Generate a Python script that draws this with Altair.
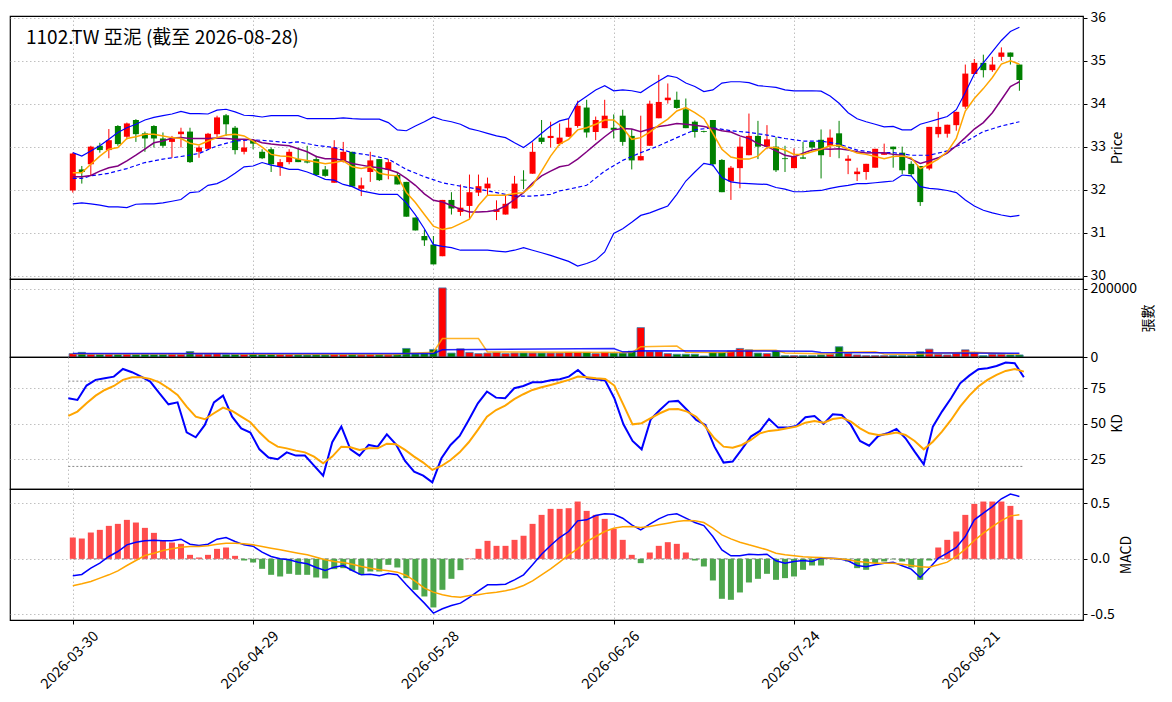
import altair as alt
import pandas as pd

# ---------------- data ----------------
title_text = "1102.TW 亞泥 (截至 2026-08-28)"
tick_idx = [0, 20, 40, 60, 80, 100]
tick_labels = ["2026-03-30", "2026-04-29", "2026-05-28", "2026-06-26", "2026-07-24", "2026-08-21"]

opens = [31.98,32.47,32.59,33.02,32.92,33.48,33.23,33.62,33.31,33.48,
         33.19,33.11,33.29,33.35,32.88,32.95,33.29,33.73,33.44,32.88,
         33.15,32.88,32.94,32.53,32.64,32.71,32.66,32.71,32.47,32.16,
         32.65,32.88,32.02,32.41,32.71,32.46,32.34,32.18,31.35,30.92,
         30.72,30.45,31.76,31.48,31.62,31.93,32.03,31.48,31.42,31.56,
         32.23,32.37,33.21,33.20,33.06,33.23,33.48,33.91,33.34,33.43,
         33.44,33.72,33.25,32.68,33.02,33.66,34.08,34.09,33.87,33.58,
         33.36,33.62,32.69,32.19,32.50,32.80,33.25,33.00,33.00,32.73,
         32.50,32.75,33.11,33.16,33.02,33.31,32.67,32.36,32.41,32.51,
         32.81,33.00,32.86,32.60,32.55,32.49,33.29,33.30,33.50,33.93,
         34.69,34.95,34.78,35.09,35.19,34.91]
highs = [32.86,32.55,33.02,33.09,33.41,33.50,33.56,33.64,33.35,33.50,
         33.33,33.25,33.44,33.44,33.02,33.32,33.72,33.76,33.48,33.15,
         33.17,32.94,32.98,32.71,32.94,32.98,33.02,32.79,32.55,33.15,
         33.11,32.88,32.28,32.88,32.71,32.71,32.40,32.18,31.35,31.07,
         30.92,31.76,31.94,32.12,32.35,32.35,32.28,31.75,31.87,32.32,
         32.45,33.10,33.62,33.58,33.54,33.65,34.07,34.09,33.70,34.09,
         33.75,33.86,33.41,33.72,34.07,34.67,34.47,34.28,34.12,33.61,
         33.37,33.62,32.71,32.55,33.22,33.77,33.60,33.50,33.22,33.02,
         32.96,33.11,33.11,33.40,33.40,33.60,32.80,32.51,32.60,32.95,
         33.07,33.00,33.00,32.66,32.55,33.46,33.81,33.51,33.81,34.91,
         35.04,35.14,35.09,35.31,35.19,34.91]
lows = [31.93,32.14,32.32,32.86,32.73,33.02,33.17,33.11,32.88,32.98,
        32.98,32.74,32.98,32.62,32.74,32.93,33.19,33.25,32.82,32.82,
        32.94,32.71,32.41,32.32,32.59,32.64,32.61,32.32,32.30,32.16,
        32.63,32.07,31.85,32.18,32.20,32.24,32.12,31.37,31.05,30.69,
        30.26,30.45,31.42,31.39,31.31,31.85,31.85,31.29,31.42,31.56,
        32.01,32.37,33.06,32.98,33.02,33.23,33.44,33.21,33.15,33.43,
        33.19,33.02,32.47,32.68,33.02,33.66,34.00,33.88,33.43,33.21,
        33.33,32.54,31.94,31.76,32.03,32.80,32.71,32.94,32.41,32.41,
        32.50,32.72,32.94,32.26,32.76,32.73,32.36,32.20,32.23,32.51,
        32.81,32.51,32.36,32.32,31.62,32.45,33.21,33.21,33.37,33.88,
        34.69,34.61,34.74,35.00,34.91,34.30]
closes = [32.84,32.41,33.00,32.92,33.15,33.06,33.54,33.29,33.19,33.19,
          33.02,33.19,33.35,32.64,32.98,33.30,33.68,33.52,32.92,32.98,
          33.07,32.73,32.59,32.64,32.88,32.64,32.63,32.34,32.32,32.98,
          32.88,32.07,32.10,32.68,32.22,32.64,32.12,31.37,31.05,30.82,
          30.26,31.76,31.56,31.58,31.94,32.08,32.14,31.54,31.67,32.14,
          32.21,32.88,33.11,33.25,33.21,33.44,33.95,33.33,33.62,33.72,
          33.39,33.11,32.68,32.78,34.00,34.04,34.14,33.90,33.43,33.34,
          33.34,32.59,31.94,32.51,33.00,33.25,33.00,33.17,32.45,32.71,
          32.77,32.72,32.98,32.80,33.21,33.00,32.72,32.42,32.60,32.95,
          32.86,32.94,32.45,32.36,31.71,33.46,33.46,33.51,33.81,34.70,
          34.95,34.78,34.91,35.19,35.09,34.55]
volumes = [10000,13500,8000,7000,8000,7000,8000,7000,8000,7000,
           7000,8000,8000,16000,8500,8500,10000,7000,7500,8000,
           9000,7000,8000,7000,7000,6500,6000,7000,6500,8000,
           7500,8000,6500,7500,7000,6500,8000,25000,9000,10000,
           22000,202000,11500,24000,13500,10000,11500,13500,10000,11500,
           11500,11500,11500,11500,11500,13500,13500,13500,10000,13500,
           11500,11500,17000,86000,15500,15500,10000,8000,8000,8000,
           3000,13500,13500,17500,25000,21000,11500,10000,17500,4000,
           4000,4000,4000,6000,8000,30000,10000,6000,4000,4000,
           4000,4000,4000,4000,15500,23000,8000,6000,10000,21000,
           11500,4000,8000,8000,6000,6000]
ma5 = [32.39,32.39,32.59,32.78,32.94,32.98,33.19,33.23,33.29,33.29,
       33.25,33.21,33.19,33.08,33.04,33.13,33.21,33.27,33.29,33.25,
       33.13,32.99,32.82,32.78,32.77,32.71,32.68,32.64,32.60,32.63,
       32.67,32.53,32.49,32.53,32.38,32.34,32.32,31.93,31.70,31.42,
       31.15,31.07,31.11,31.21,31.31,31.63,31.87,31.87,31.87,31.91,
       31.93,32.10,32.43,32.78,33.06,33.17,33.39,33.44,33.52,33.62,
       33.62,33.44,33.17,33.21,33.34,33.50,33.64,33.83,33.91,33.79,
       33.65,33.31,32.94,32.76,32.71,32.71,32.78,32.98,32.98,32.92,
       32.82,32.82,32.88,32.94,33.02,33.03,32.94,32.85,32.82,32.77,
       32.72,32.77,32.78,32.74,32.49,32.59,32.71,32.88,33.19,33.83,
       34.12,34.35,34.61,34.92,35.00,34.92]
ma10 = [32.30,32.30,32.33,32.43,32.51,32.55,32.67,32.80,32.94,33.09,
        33.13,33.20,33.21,33.19,33.19,33.19,33.20,33.19,33.17,33.17,
        33.16,33.09,33.06,33.04,33.02,32.95,32.88,32.77,32.72,32.72,
        32.68,32.61,32.57,32.53,32.51,32.47,32.40,32.26,32.10,31.90,
        31.75,31.71,31.63,31.54,31.48,31.48,31.49,31.52,31.62,31.77,
        31.93,32.15,32.32,32.43,32.53,32.57,32.71,32.88,33.06,33.23,
        33.39,33.42,33.41,33.35,33.41,33.47,33.50,33.54,33.52,33.50,
        33.47,33.42,33.37,33.34,33.25,33.19,33.07,33.00,32.90,32.80,
        32.76,32.85,32.92,32.95,32.94,32.95,32.92,32.88,32.85,32.86,
        32.86,32.82,32.80,32.71,32.61,32.67,32.74,32.85,33.02,33.21,
        33.41,33.56,33.79,34.09,34.40,34.51]
bb_upper = [32.86,32.78,32.90,33.02,33.17,33.33,33.44,33.52,33.62,33.68,
            33.72,33.76,33.82,33.77,33.77,33.76,33.85,33.87,33.81,33.73,
            33.72,33.69,33.72,33.72,33.72,33.72,33.65,33.65,33.65,33.65,
            33.67,33.65,33.64,33.64,33.64,33.56,33.39,33.37,33.48,33.58,
            33.69,33.62,33.58,33.52,33.42,33.37,33.31,33.25,33.21,33.09,
            32.98,33.13,33.31,33.48,33.60,33.65,34.03,34.17,34.32,34.42,
            34.30,34.32,34.30,34.26,34.40,34.53,34.65,34.61,34.48,34.40,
            34.28,34.32,34.48,34.51,34.51,34.49,34.42,34.40,34.38,34.32,
            34.30,34.30,34.30,34.29,34.18,34.01,33.79,33.65,33.58,33.52,
            33.46,33.47,33.39,33.39,33.52,33.58,33.64,33.70,33.86,34.26,
            34.69,34.95,35.21,35.47,35.68,35.78]
bb_lower = [31.67,31.69,31.67,31.64,31.60,31.60,31.58,31.66,31.67,31.67,
            31.69,31.73,31.77,31.93,31.95,32.10,32.14,32.24,32.38,32.53,
            32.55,32.63,32.57,32.53,32.47,32.47,32.41,32.33,32.24,32.22,
            32.12,32.07,31.97,31.93,31.89,31.89,31.89,31.69,31.41,31.09,
            30.72,30.68,30.65,30.59,30.59,30.59,30.59,30.57,30.55,30.59,
            30.65,30.59,30.53,30.47,30.40,30.33,30.22,30.28,30.36,30.55,
            30.98,31.09,31.24,31.40,31.46,31.54,31.62,31.89,32.20,32.41,
            32.61,32.57,32.28,32.18,32.15,32.14,32.13,32.12,32.05,32.01,
            31.95,31.95,31.97,31.98,32.03,32.07,32.10,32.14,32.14,32.16,
            32.18,32.20,32.34,32.32,32.07,32.03,32.01,31.98,31.93,31.76,
            31.62,31.52,31.46,31.41,31.37,31.40]
ma20_idx = [0,1,2,4,6,8,10,12,14,16,18,20,22,24,25,27,29,31,33,35,
            37,39,41,43,45,47,49,51,53,54,55,57,59,61,63,65,67,69,71,73,
            75,77,79,81,83,85,87,89,91,93,95,97,99,101,103,105]
ma20_val = [32.26,32.26,32.32,32.38,32.49,32.63,32.71,32.77,32.84,33.02,
            33.13,33.16,33.13,33.09,33.11,33.03,32.98,32.86,32.80,32.71,
            32.47,32.30,32.16,32.08,32.01,31.93,31.85,31.85,31.89,31.97,
            32.01,32.10,32.43,32.68,32.86,33.02,33.21,33.39,33.44,33.37,
            33.33,33.27,33.19,33.13,33.13,33.06,32.92,32.86,32.86,32.80,
            32.80,32.90,33.11,33.35,33.48,33.58]
vma5_idx = [0,12,13,17,18,36,37,40,41,45,46,62,63,67,68,72,73,74,78,79,
            84,85,89,90,93,94,99,100,105]
vma5_val = [9000,8500,10000,10500,8500,7500,10500,14000,54000,54000,
            14500,13000,30000,32000,14000,13000,15000,19000,20000,12000,
            9000,14000,15000,9000,7000,9000,14000,14000,8000]
vma20_idx = [0,40,41,60,61,62,63,82,83,105]
vma20_val = [10000,10500,21000,24500,15000,15000,18000,17000,13500,11000]
k_vals = [68.0,66.8,76.9,80.9,82.0,83.2,88.6,86.3,83.2,79.7,
          71.5,63.7,65.1,44.0,40.5,49.2,65.1,69.8,55.0,46.8,
          43.8,32.0,26.2,25.0,29.9,27.6,27.6,20.5,13.5,37.0,
          48.0,32.0,27.6,35.1,33.9,42.6,35.6,23.8,16.3,13.5,
          8.8,25.7,35.1,41.4,52.7,64.4,72.7,68.4,68.0,75.0,
          76.6,79.2,79.2,80.6,81.3,83.2,87.9,82.0,81.3,80.4,
          68.0,49.6,37.9,32.0,53.2,59.7,65.6,66.1,59.7,52.7,
          49.2,33.9,22.7,23.4,32.0,41.0,45.0,53.4,47.3,47.3,
          48.5,54.6,55.5,49.9,56.7,56.2,49.2,37.9,34.6,41.4,
          43.3,46.4,39.8,30.4,21.5,48.0,58.6,68.0,78.5,83.9,
          88.4,89.1,90.7,93.1,92.6,82.7]
d_vals = [55.5,58.6,64.4,69.8,73.8,76.6,80.9,82.7,82.7,81.6,
          79.2,75.0,70.3,62.1,55.0,53.2,57.4,61.4,59.0,55.0,
          51.1,44.0,37.9,33.9,32.7,31.1,29.9,26.9,22.2,26.9,
          33.9,33.5,31.6,32.7,32.7,36.0,35.6,31.6,26.9,22.7,
          17.5,20.3,24.5,29.9,37.0,45.7,55.0,59.7,62.8,67.3,
          70.8,73.8,75.7,77.3,79.0,80.9,83.2,82.7,82.0,81.6,
          76.9,63.3,49.6,50.4,53.9,57.4,60.2,60.4,58.6,55.0,
          48.0,39.8,33.9,33.2,35.1,38.6,43.3,45.0,45.7,46.8,
          48.0,50.8,52.0,50.8,53.4,54.3,51.5,46.8,43.3,42.1,
          42.6,43.8,42.1,37.9,32.0,37.4,44.5,52.7,62.1,69.8,
          76.2,80.9,84.4,87.2,88.6,86.7]
macd_hist = [0.192,0.183,0.237,0.261,0.297,0.315,0.351,0.327,0.279,0.234,
             0.162,0.147,0.135,0.036,0.012,0.036,0.090,0.102,0.027,-0.015,
             -0.033,-0.090,-0.144,-0.159,-0.135,-0.144,-0.144,-0.168,-0.177,-0.093,
             -0.084,-0.108,-0.144,-0.114,-0.114,-0.054,-0.078,-0.174,-0.279,-0.339,
             -0.438,-0.279,-0.180,-0.102,0.003,0.090,0.162,0.117,0.117,0.171,
             0.207,0.315,0.396,0.450,0.450,0.456,0.516,0.432,0.396,0.360,
             0.270,0.171,0.036,-0.039,0.057,0.117,0.150,0.135,0.057,-0.015,
             -0.069,-0.195,-0.360,-0.369,-0.303,-0.213,-0.180,-0.135,-0.189,-0.174,
             -0.159,-0.099,-0.060,-0.060,0.004,-0.004,-0.024,-0.084,-0.099,-0.039,
             -0.024,-0.004,-0.024,-0.078,-0.189,-0.015,0.102,0.171,0.246,0.396,
             0.495,0.516,0.516,0.516,0.477,0.351]
macd_dif = [-0.153,-0.141,-0.084,-0.039,0.021,0.066,0.126,0.150,0.162,0.168,
            0.162,0.162,0.177,0.132,0.120,0.132,0.177,0.192,0.156,0.126,
            0.114,0.060,0.021,0.0,-0.009,-0.030,-0.045,-0.078,-0.105,-0.075,
            -0.060,-0.105,-0.144,-0.138,-0.153,-0.132,-0.144,-0.234,-0.318,-0.399,
            -0.489,-0.450,-0.420,-0.399,-0.348,-0.288,-0.234,-0.234,-0.228,-0.189,
            -0.144,-0.054,0.042,0.120,0.192,0.246,0.342,0.351,0.390,0.405,
            0.402,0.366,0.306,0.261,0.312,0.360,0.396,0.405,0.366,0.327,
            0.300,0.201,0.081,0.027,0.027,0.042,0.036,0.042,-0.018,-0.039,
            -0.024,-0.015,-0.024,0.006,0.006,0.0,-0.018,-0.060,-0.072,-0.054,
            -0.039,-0.030,-0.063,-0.093,-0.168,-0.084,0.006,0.051,0.102,0.201,
            0.351,0.411,0.471,0.541,0.583,0.562]
macd_dea = [-0.243,-0.225,-0.204,-0.174,-0.144,-0.108,-0.060,-0.015,0.030,0.051,
            0.075,0.090,0.105,0.111,0.111,0.117,0.132,0.141,0.141,0.135,
            0.126,0.111,0.096,0.081,0.066,0.051,0.036,0.015,-0.009,-0.024,
            -0.033,-0.048,-0.069,-0.084,-0.099,-0.108,-0.120,-0.150,-0.204,-0.264,
            -0.300,-0.324,-0.339,-0.345,-0.330,-0.324,-0.309,-0.300,-0.288,-0.270,
            -0.240,-0.198,-0.144,-0.090,-0.030,0.036,0.090,0.156,0.201,0.246,
            0.276,0.288,0.291,0.282,0.291,0.306,0.321,0.336,0.345,0.342,
            0.327,0.276,0.216,0.180,0.150,0.126,0.105,0.081,0.051,0.036,
            0.027,0.018,0.015,0.012,0.006,0.0,-0.009,-0.024,-0.030,-0.039,
            -0.039,-0.039,-0.048,-0.060,-0.072,-0.075,-0.054,-0.030,0.021,0.087,
            0.165,0.231,0.291,0.345,0.387,0.396]
kd_levels = [80, 20]

# ---------------- tables ----------------
n = len(closes)
df = pd.DataFrame({
    "i": list(range(n)),
    "open": opens[:n], "high": highs[:n], "low": lows[:n], "close": closes[:n],
    "vol": volumes[:n], "ma5": ma5[:n], "ma10": ma10[:n],
    "upper": bb_upper[:n], "lower": bb_lower[:n],
    "k": k_vals[:n], "d": d_vals[:n],
    "hist": macd_hist[:n], "dif": macd_dif[:n], "dea": macd_dea[:n],
})
df["dir"] = ["up" if c >= o else "down" for o, c in zip(df["open"], df["close"])]
df["hdir"] = ["pos" if h >= 0 else "neg" for h in df["hist"]]
df_ma20 = pd.DataFrame({"i": ma20_idx, "v": ma20_val})
df_vma5 = pd.DataFrame({"i": vma5_idx, "v": vma5_val})
df_vma20 = pd.DataFrame({"i": vma20_idx, "v": vma20_val})
df_kd = pd.DataFrame({"lvl": kd_levels, "i": [0, 0], "x1": [n - 1, n - 1]})
df_zero = pd.DataFrame({"lvl": [0.0], "i": [0], "x1": [n - 1]})
df_title = pd.DataFrame({"t": [title_text]})

FONT = "Noto Sans CJK TC"
W = 1073
xs = alt.Scale(domain=[-6.41, 111.5], nice=False, zero=False)
AX_HIDDEN = alt.Axis(values=tick_idx, labels=False, ticks=False, domain=False, grid=True, title=None)
label_expr = "[" + ",".join("'" + t + "'" for t in tick_labels) + "][round(datum.value/20)]"
AX_BOTTOM = alt.Axis(values=tick_idx, labelExpr=label_expr, labelAngle=315, labelAlign="center",
                     labelBaseline="middle", labelPadding=36, labelOffset=-3, domain=False,
                     grid=True, title=None, labelFlush=False, labelOverlap=False, labelFontSize=14.5)


def xh():
    return alt.X("i:Q", scale=xs, axis=AX_HIDDEN)


def xb():
    return alt.X("i:Q", scale=xs, axis=AX_BOTTOM)


color_all = alt.Color("dir:N", scale=alt.Scale(domain=["up", "down", "pos", "neg"],
                                              range=["#ff0000", "#008000", "#ff4d4d", "#4da64d"]),
                      legend=None)


def yaxis(title, values, fmt=None, expr=None):
    kw = dict(orient="right", values=values, title=title, grid=True, domain=False,
              titleAngle=270, titleBaseline="top", labelFlush=False, labelOverlap=False,
              titlePadding=5)
    if fmt:
        kw["format"] = fmt
    if expr:
        kw["labelExpr"] = expr
    return alt.Axis(**kw)


# ---- price panel ----
ps = alt.Scale(domain=[29.92, 36.04], nice=False, zero=False)
PAX = yaxis("Price", [30, 31, 32, 33, 34, 35, 36], "d")


def yp(field):
    return alt.Y(field, scale=ps, axis=PAX)


base = alt.Chart(df)
wick = base.mark_rule(strokeWidth=1).encode(x=xh(), y=yp("low:Q"), y2="high:Q", color=color_all)
body = base.mark_bar(size=6).encode(x=xh(), y=yp("open:Q"), y2="close:Q", color=color_all)
up_l = base.mark_line(color="#0000ff", strokeWidth=1.2).encode(x=xh(), y=yp("upper:Q"))
lo_l = base.mark_line(color="#0000ff", strokeWidth=1.2).encode(x=xh(), y=yp("lower:Q"))
mid_l = alt.Chart(df_ma20).mark_line(color="#0000ff", strokeWidth=1.2, strokeDash=[4, 2.5]).encode(
    x=xh(), y=yp("v:Q"))
m10 = base.mark_line(color="#800080", strokeWidth=1.5).encode(x=xh(), y=yp("ma10:Q"))
m5 = base.mark_line(color="#ffa500", strokeWidth=1.5).encode(x=xh(), y=yp("ma5:Q"))
ttl = alt.Chart(df_title).mark_text(align="left", baseline="alphabetic", fontSize=19,
                                    font=FONT, color="black").encode(
    x=alt.value(16), y=alt.value(28), text="t:N")
price = alt.layer(wick, body, up_l, lo_l, mid_l, m10, m5, ttl).properties(width=W, height=263)

# ---- volume panel ----
vs = alt.Scale(domain=[0, 228000], nice=False, zero=True)
VAX = yaxis("張數", [0, 200000], "d")
vbar = alt.Chart(df).mark_bar(size=7.5, stroke="steelblue", strokeWidth=0.8).encode(
    x=xh(), y=alt.Y("vol:Q", scale=vs, axis=VAX), color=color_all)
v5 = alt.Chart(df_vma5).mark_line(color="#ffa500", strokeWidth=1.5, opacity=0.85).encode(
    x=xh(), y=alt.Y("v:Q", scale=vs, axis=VAX))
v20 = alt.Chart(df_vma20).mark_line(color="#0000ff", strokeWidth=1.5, opacity=0.85).encode(
    x=xh(), y=alt.Y("v:Q", scale=vs, axis=VAX))
volume = alt.layer(vbar, v5, v20).properties(width=W, height=78)

# ---- KD panel ----
ks = alt.Scale(domain=[4.1, 97.0], nice=False, zero=False)
KAX = yaxis("KD", [25, 50, 75], "d")
kdlv = alt.Chart(df_kd).mark_rule(color="#888888", strokeWidth=1, strokeDash=[2, 2]).encode(
    x=xh(), x2="x1:Q", y=alt.Y("lvl:Q", scale=ks, axis=KAX))
kline = alt.Chart(df).mark_line(color="#0000ff", strokeWidth=2).encode(
    x=xh(), y=alt.Y("k:Q", scale=ks, axis=KAX))
dline = alt.Chart(df).mark_line(color="#ffa500", strokeWidth=2).encode(
    x=xh(), y=alt.Y("d:Q", scale=ks, axis=KAX))
kd = alt.layer(kdlv, kline, dline).properties(width=W, height=132)

# ---- MACD panel ----
ms = alt.Scale(domain=[-0.551, 0.629], nice=False, zero=False)
mexpr = "datum.value < 0 ? '-' + format(-datum.value, '.1f') : format(datum.value, '.1f')"
MAX_ = yaxis("MACD", [-0.5, 0.0, 0.5], None, mexpr)
zl = alt.Chart(df_zero).mark_rule(color="#888888", strokeWidth=1, strokeDash=[4, 3]).encode(
    x=xb(), x2="x1:Q", y=alt.Y("lvl:Q", scale=ms, axis=MAX_))
hbar = alt.Chart(df).mark_bar(size=6).encode(
    x=xb(), y=alt.Y("hist:Q", scale=ms, axis=MAX_), y2=alt.datum(0),
    color=alt.Color("hdir:N", scale=alt.Scale(domain=["up", "down", "pos", "neg"],
                                              range=["#ff0000", "#008000", "#ff4d4d", "#4da64d"]),
                    legend=None))
difl = alt.Chart(df).mark_line(color="#0000ff", strokeWidth=1.5).encode(
    x=xb(), y=alt.Y("dif:Q", scale=ms, axis=MAX_))
deal = alt.Chart(df).mark_line(color="#ffa500", strokeWidth=1.5).encode(
    x=xb(), y=alt.Y("dea:Q", scale=ms, axis=MAX_))
macd = alt.layer(zl, hbar, difl, deal).properties(width=W, height=131)

chart = alt.vconcat(price, volume, kd, macd, spacing=0, bounds="flush").properties(
    padding={"left": 1, "top": 2, "right": 5, "bottom": 0}
).resolve_scale(color="independent").configure(font=FONT).configure_view(
    stroke="black", strokeWidth=1.2
).configure_axis(
    labelFont=FONT, labelFontSize=14, labelColor="black",
    titleFont=FONT, titleFontSize=14, titleFontWeight="normal", titleColor="black",
    tickColor="black", tickSize=4, labelPadding=3,
    gridColor="#b0b0b0", gridDash=[1.5, 2.5], gridWidth=0.8,
)

chart.save("out.html", embed_options={"renderer": "svg", "actions": False})
